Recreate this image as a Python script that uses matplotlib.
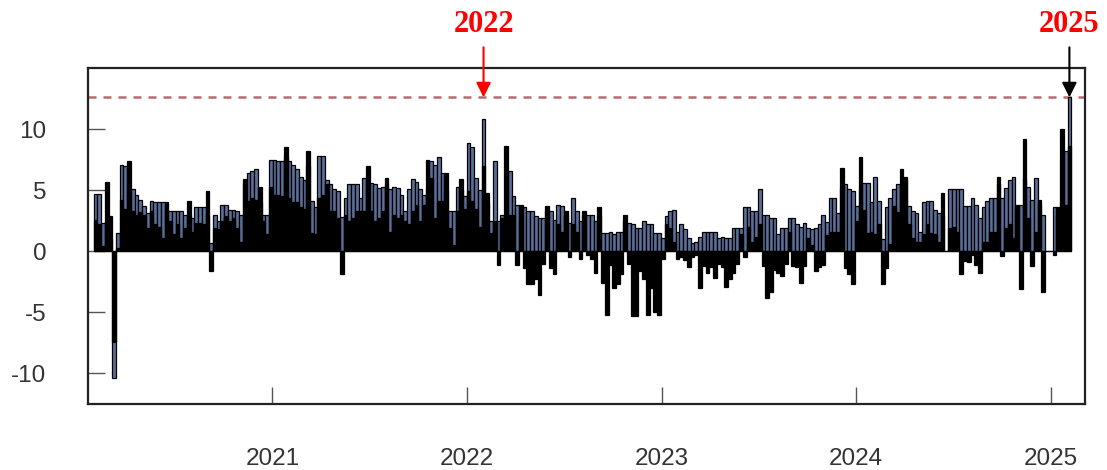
import matplotlib
matplotlib.use("Agg")
import matplotlib.pyplot as plt
import matplotlib.dates as mdates
import numpy as np
import pandas as pd

# Weekly values: total (blue bars) and one component (black bars)
start_date = "2020-02-04"

total = [
    4.7, 4.7, 2.3, 2.5, 1.0, -10.4, 1.5, 7.1, 7.0, 5.0,
    5.1, 4.6, 4.2, 3.7, 3.1, 4.1, 4.0, 4.0, 4.0, 3.5,
    3.3, 3.3, 3.3, 3.3, 3.0, 3.0, 2.7, 3.6, 3.6, 3.6,
    3.0, 0.7, 3.0, 2.5, 3.8, 3.8, 3.4, 3.4, 3.3, 3.0,
    5.5, 6.4, 6.6, 6.7, 4.0, 3.0, 3.0, 7.5, 7.5, 7.4,
    7.4, 7.7, 7.4, 7.1, 6.7, 6.1, 5.8, 7.0, 4.1, 3.6,
    7.8, 7.8, 5.8, 5.5, 5.1, 4.9, 2.8, 4.4, 5.5, 5.5,
    5.5, 4.4, 6.0, 5.5, 5.6, 5.5, 5.2, 5.3, 5.5, 5.1,
    5.3, 5.2, 4.6, 3.3, 5.1, 5.9, 5.7, 5.1, 4.6, 5.0,
    7.4, 7.1, 7.7, 6.4, 5.0, 3.3, 3.3, 5.3, 5.0, 4.5,
    8.9, 8.5, 6.0, 5.0, 10.8, 4.0, 2.5, 7.4, 2.5, 3.0,
    3.0, 6.6, 4.5, 3.8, 2.5, 3.6, 3.3, 3.3, 2.9, 2.7,
    2.7, 3.3, 3.3, 2.6, 3.8, 3.7, 3.0, 2.3, 4.4, 3.3,
    2.5, 3.0, 3.0, 3.0, 2.5, 3.0, 1.5, 1.5, 1.6, 1.4,
    1.6, 1.6, 2.4, 2.3, 2.2, 1.9, 1.9, 2.5, 2.2, 2.2,
    1.5, 1.5, 1.1, 2.9, 3.3, 3.4, 1.6, 2.2, 1.8, 1.1,
    0.7, 0.8, 1.2, 1.6, 1.6, 1.6, 1.6, 1.1, 1.2, 1.1,
    1.1, 1.9, 1.9, 1.9, 3.6, 3.6, 3.3, 3.3, 5.1, 3.0,
    3.0, 2.7, 2.7, 1.4, 1.9, 1.9, 2.7, 2.7, 2.2, 2.0,
    2.3, 1.9, 1.8, 1.9, 2.2, 3.0, 2.4, 4.4, 4.4, 3.1,
    5.2, 5.5, 5.1, 4.9, 3.7, 5.0, 5.6, 5.6, 4.0, 6.1,
    4.1, 1.0, 3.6, 4.4, 5.1, 5.5, 5.5, 5.8, 3.7, 3.3,
    3.1, 1.6, 4.0, 4.1, 4.1, 3.4, 3.1, 3.0, 0.0, 5.1,
    5.1, 5.1, 5.1, 3.7, 3.7, 4.4, 3.8, 2.7, 3.6, 4.1,
    4.4, 4.4, 5.5, 4.4, 5.2, 5.8, 6.1, 3.5, 3.8, 6.0,
    5.3, 4.2, 6.0, 3.8, 3.0, 0.0, 0.0, 3.6, 3.0, 4.0,
    8.2, 12.6,
]

component = [
    2.6, 2.2, 0.4, 5.7, 2.9, -7.4, 0.3, 4.2, 3.5, 7.4,
    3.3, 3.0, 3.2, 3.0, 1.9, 3.3, 2.2, 2.0, 1.1, 4.0,
    2.5, 1.4, 2.2, 1.1, 1.9, 4.1, 1.6, 2.3, 2.3, 2.2,
    4.9, -1.6, 1.9, 1.8, 2.5, 2.9, 2.5, 2.7, 1.9, 0.8,
    5.9, 4.1, 4.4, 4.2, 5.3, 2.5, 1.4, 5.3, 4.6, 4.6,
    4.5, 8.5, 4.4, 4.0, 4.0, 3.6, 3.5, 8.2, 1.5, 1.4,
    4.4, 4.6, 5.5, 3.3, 3.3, 2.7, -1.9, 3.0, 2.5, 2.7,
    3.3, 3.3, 3.3, 7.0, 3.3, 2.5, 2.7, 3.3, 6.0, 1.6,
    3.0, 2.7, 3.0, 2.5, 2.2, 3.3, 3.8, 2.5, 3.8, 7.5,
    6.0, 2.7, 4.1, 4.1, 6.4, 1.9, 0.5, 3.3, 5.9, 3.5,
    4.9, 4.1, 3.5, 2.0, 7.0, 4.8, 1.5, 2.5, -1.1, 2.7,
    8.6, 3.0, 3.0, -1.1, 3.8, -1.4, -2.7, -2.7, -2.3, -3.6,
    -1.0, 3.7, -1.4, -1.9, 2.2, 1.6, 3.3, -0.5, 2.2, 1.6,
    -0.6, 3.3, -0.3, -0.6, -1.8, 3.6, -2.6, -5.2, -1.1, -3.0,
    -2.7, -1.9, 3.0, -1.0, -5.3, -5.3, -1.6, -2.3, -5.2, -3.0,
    -5.0, -5.2, -0.6, 2.2, 1.9, 0.8, -0.6, -0.5, -0.7, -1.3,
    -0.5, -0.3, -3.0, -1.2, -1.8, -1.3, -2.2, -1.0, -1.3, -2.9,
    -2.3, -1.8, -1.0, 1.4, -0.5, 2.0, 0.8, 1.2, 2.2, -1.2,
    -3.8, -3.3, -1.5, -1.8, -2.0, -1.0, 1.6, -1.2, -1.3, -2.6,
    -1.2, 1.1, 0.5, -1.6, -1.3, -1.1, 1.3, 1.6, 1.6, 1.6,
    6.8, -1.4, -1.9, -2.7, 2.5, 7.7, 3.4, 1.5, 1.6, 1.4,
    2.2, -2.7, -1.4, 0.6, 3.7, 3.2, 6.7, 6.1, 2.2, 1.1,
    0.8, 0.8, 1.4, 2.2, 1.5, 1.4, 0.8, 4.8, 0.0, 1.9,
    2.0, 1.6, -1.9, -0.8, -0.9, -0.3, -1.1, -1.8, 0.8, 0.8,
    1.6, 1.6, 6.1, -0.4, 1.9, 2.2, 1.1, 3.8, -3.1, 9.2,
    2.7, -1.2, 1.6, 4.2, -3.3, 0.0, 0.0, -0.3, 3.6, 10.0,
    3.8, 8.6,
]

year_ticks = ["2021-01-01", "2022-01-01", "2023-01-01", "2024-01-01", "2025-01-01"]
year_labels = ["2021", "2022", "2023", "2024", "2025"]
y_ticks = [-10, -5, 0, 5, 10]

dates = pd.date_range(start_date, periods=len(total), freq="7D")
total = np.array(total)
component = np.array(component)

fig = plt.figure(figsize=(11.07, 4.70), dpi=100)
ax = fig.add_axes([0.0795, 0.1404, 0.9005, 0.7149])

bar_w = 7
ax.bar(dates, total, width=bar_w, color="#5a6e98", edgecolor="black",
       linewidth=0.9, zorder=2)
ax.bar(dates, component, width=bar_w, color="black", edgecolor="black",
       linewidth=0.9, zorder=3)

# reference level at the highest weekly total
peak = total.max()
ax.axhline(peak, color="#b86a6e", lw=1.8, dashes=(3.2, 2.8), zorder=1)

ax.set_xlim(pd.Timestamp("2020-01-21"), pd.Timestamp("2025-03-05"))
ax.set_ylim(-12.5, 15.0)
ax.set_xticks(pd.to_datetime(year_ticks))
ax.set_xticklabels(year_labels)
ax.set_yticks(y_ticks)
ax.set_yticklabels([str(v) for v in y_ticks])

for side in ["left", "right", "top", "bottom"]:
    ax.spines[side].set_color("#222222")
    ax.spines[side].set_linewidth(1.6)

ax.tick_params(axis="both", direction="in", length=12, width=1,
               color="#555555", labelcolor="#333333", labelsize=17.5,
               labelfontfamily="Liberation Sans")
ax.tick_params(axis="x", pad=32)
ax.tick_params(axis="y", pad=30)

# year markers pointing at the peak level
i22 = int(np.argmax(np.where(dates.year == 2022, total, -np.inf)))
i_max = int(np.argmax(total))
for idx, label, arrow_col in [(i22, "2022", "red"), (i_max, "2025", "black")]:
    ax.annotate("", xy=(dates[idx], peak), xycoords="data",
                xytext=(0, 50), textcoords="offset pixels",
                arrowprops=dict(arrowstyle="-|>", color=arrow_col, lw=1.5,
                                mutation_scale=22, shrinkA=0, shrinkB=0),
                annotation_clip=False, zorder=5)
    ax.annotate(label, xy=(dates[idx], peak), xycoords="data",
                xytext=(0, 73), textcoords="offset pixels",
                ha="center", va="center", color="red", fontsize=22,
                fontweight="bold", family="Liberation Serif",
                annotation_clip=False)

fig.savefig("out.png", dpi=100)
